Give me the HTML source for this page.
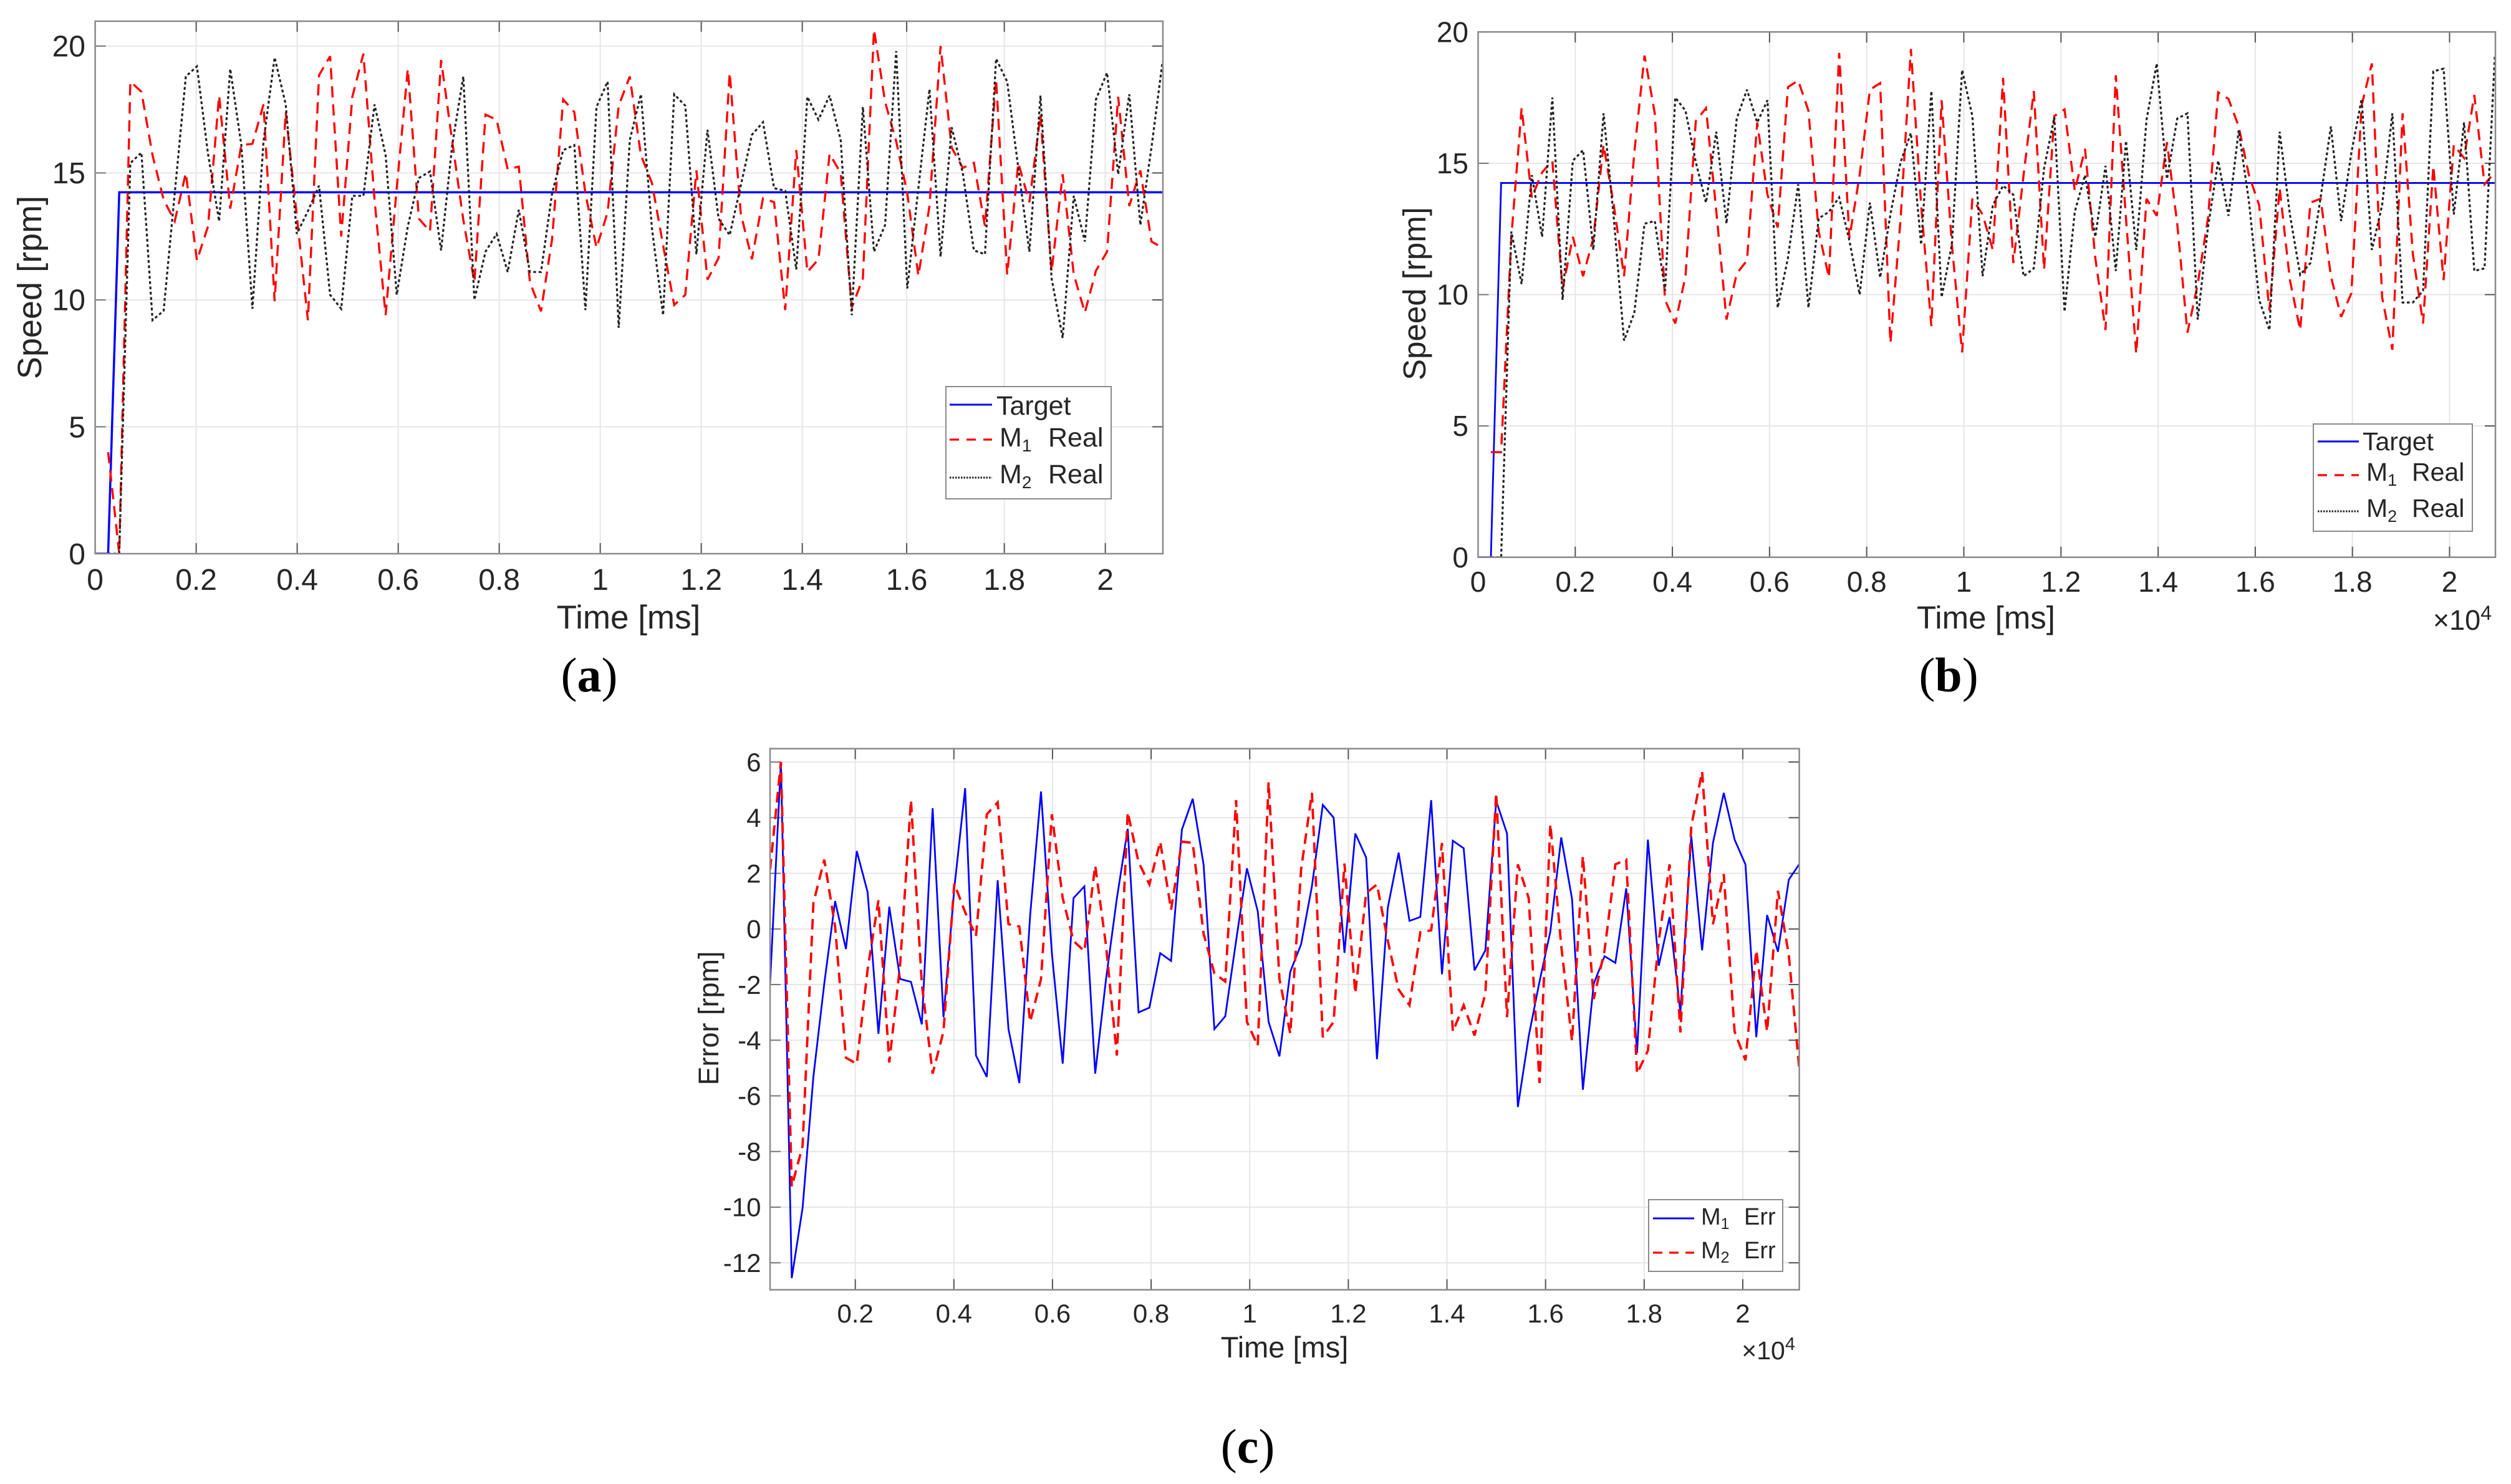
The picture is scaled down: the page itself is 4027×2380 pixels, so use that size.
<!DOCTYPE html>
<html lang="en">
<head>
<meta charset="utf-8">
<title>Speed and error charts</title>
<style>
html,body{margin:0;padding:0;background:#fff;}
svg{display:block;}
text{font-family:"Liberation Sans",Arial,sans-serif;fill:#262626;}
.cap{font-family:"Liberation Serif",serif;fill:#000;font-size:78px;}
</style>
</head>
<body>
<svg id="figure" xmlns="http://www.w3.org/2000/svg" width="4027" height="2380" viewBox="0 0 4027 2380">
<rect x="0" y="0" width="4027" height="2380" fill="#fff"/>

<g id="plot-a"></g>
<g id="plot-b"></g>
<g id="plot-c"></g>

<text transform="translate(66,461) rotate(-90)" text-anchor="middle" font-size="54">Speed [rpm]</text>
<text x="1008" y="1008" text-anchor="middle" font-size="53">Time [ms]</text>
<g>
  <rect x="1517" y="620" width="265" height="180" fill="#fff" stroke="#8a8a8a" stroke-width="2"/>
  <line x1="1523" y1="649" x2="1591" y2="649" stroke="#0000ff" stroke-width="3"/>
  <text x="1598" y="665" font-size="43">Target</text>
  <line x1="1523" y1="705" x2="1591" y2="705" stroke="#ff0000" stroke-width="3.3" stroke-dasharray="15 12"/>
  <text x="1603" y="716" font-size="43">M<tspan dy="8" font-size="28">1</tspan></text>
  <text x="1681" y="716" font-size="43">Real</text>
  <line x1="1523" y1="766" x2="1591" y2="766" stroke="#222" stroke-width="3" stroke-dasharray="2.5 2"/>
  <text x="1603" y="775" font-size="43">M<tspan dy="8" font-size="28">2</tspan></text>
  <text x="1681" y="775" font-size="43">Real</text>
</g>
<text x="945" y="1109" text-anchor="middle" class="cap">(<tspan font-weight="bold">a</tspan>)</text>

<text transform="translate(2286,471) rotate(-90)" text-anchor="middle" font-size="51">Speed [rpm]</text>
<text x="3185" y="1008" text-anchor="middle" font-size="51">Time [ms]</text>
<text x="3996" y="1010" text-anchor="end" font-size="45">×10<tspan dy="-16" font-size="32">4</tspan></text>
<g>
  <rect x="3710" y="680" width="255" height="172" fill="#fff" stroke="#8a8a8a" stroke-width="2"/>
  <line x1="3717" y1="708" x2="3783" y2="708" stroke="#0000ff" stroke-width="3"/>
  <text x="3789" y="722" font-size="41">Target</text>
  <line x1="3717" y1="762" x2="3783" y2="762" stroke="#ff0000" stroke-width="3.3" stroke-dasharray="15 12"/>
  <text x="3795" y="771" font-size="41">M<tspan dy="8" font-size="27">1</tspan></text>
  <text x="3868" y="771" font-size="41">Real</text>
  <line x1="3717" y1="820" x2="3783" y2="820" stroke="#222" stroke-width="3" stroke-dasharray="2.5 2"/>
  <text x="3795" y="829" font-size="41">M<tspan dy="8" font-size="27">2</tspan></text>
  <text x="3868" y="829" font-size="41">Real</text>
</g>
<text x="3125" y="1109" text-anchor="middle" class="cap">(<tspan font-weight="bold">b</tspan>)</text>

<text transform="translate(1152,1633) rotate(-90)" text-anchor="middle" font-size="45">Error [rpm]</text>
<text x="2060" y="2177" text-anchor="middle" font-size="47">Time [ms]</text>
<text x="2879" y="2180" text-anchor="end" font-size="41">×10<tspan dy="-15" font-size="29">4</tspan></text>
<g>
  <rect x="2644" y="1924" width="215" height="115" fill="#fff" stroke="#8a8a8a" stroke-width="2"/>
  <line x1="2651" y1="1954" x2="2717" y2="1954" stroke="#0000ff" stroke-width="3"/>
  <text x="2728" y="1964" font-size="38">M<tspan dy="7" font-size="25">1</tspan></text>
  <text x="2797" y="1964" font-size="38">Err</text>
  <line x1="2651" y1="2009" x2="2717" y2="2009" stroke="#ff0000" stroke-width="3.3" stroke-dasharray="15 11"/>
  <text x="2728" y="2018" font-size="38">M<tspan dy="7" font-size="25">2</tspan></text>
  <text x="2797" y="2018" font-size="38">Err</text>
</g>
<text x="2001" y="2346" text-anchor="middle" class="cap">(<tspan font-weight="bold">c</tspan>)</text>
</svg>

<script>
const speedTicks = [0, 5, 10, 15, 20];
const speedTickLabels = ["0", "5", "10", "15", "20"];
const errorTicks = [-12, -10, -8, -6, -4, -2, 0, 2, 4, 6];
const errorTickLabels = ["-12", "-10", "-8", "-6", "-4", "-2", "0", "2", "4", "6"];
const timeTicksA = [0, 0.2, 0.4, 0.6, 0.8, 1, 1.2, 1.4, 1.6067, 1.8, 2];
const timeTicksB = [0, 0.2, 0.4, 0.6, 0.8, 1, 1.2, 1.4, 1.6, 1.8, 2];
const timeTicksC = [0.2, 0.4, 0.6, 0.8, 1, 1.2, 1.4, 1.6, 1.8, 2];
const timeLabelsAB = ["0", "0.2", "0.4", "0.6", "0.8", "1", "1.2", "1.4", "1.6", "1.8", "2"];
const timeLabelsC = ["0.2", "0.4", "0.6", "0.8", "1", "1.2", "1.4", "1.6", "1.8", "2"];

const targetTimesA = [0, 0.0257, 0.0477, 2.114];
const targetValuesA = [0, 0, 14.24, 14.24];
const realM1A = [4,0,18.6,18.2,15.7,13.95,13.1,15,11.55,12.9,18.05,13.6,16.1,16.15,17.7,9.95,17.4,13.3,9.2,18.85,19.6,12.5,18,19.7,13.95,9.4,14.4,19.1,13.2,12.7,19.45,16.25,13.15,10.7,17.3,17.1,15.15,15.25,10.7,9.55,12.4,17.9,17.4,14.2,12.05,13.45,17.65,18.8,15.7,14.6,12.15,9.8,10.2,15.1,10.8,11.65,18.95,13.4,11.6,14,13.85,9.6,15.9,11.1,11.6,15.75,15,9.7,10.85,20.65,17.8,16.25,14.2,10.95,13.7,20,16,15.2,15.4,12.9,18.7,11,15.4,13.85,17.3,11.1,14.95,11,9.5,11.15,11.9,18,13.7,15.1,12.3,12.05];
const realM2A = [0,0,15.39,15.8,9.2,9.57,14.2,18.8,19.2,15.75,13.1,19.1,16.1,9.65,16.25,19.55,17.7,12.6,13.5,14.5,10.2,9.65,14.1,14.1,17.7,15.7,10.2,12.9,14.8,15.06,11.95,16.1,18.8,10,11.9,12.6,11.1,13.55,11.1,11.1,14.2,15.9,16.1,9.6,17.6,18.6,8.9,16.3,18.1,12.8,9.4,18.1,17.65,11.8,16.7,13.2,12.55,14.5,16.5,17,14.4,14.3,11.2,18,17.1,18.05,16.3,9.4,17.6,11.9,12.95,19.8,10.45,14.4,18.3,11.7,16.8,15,11.95,11.8,19.5,18.6,15.2,11.9,18.05,10.85,8.5,14.1,12.3,17.9,18.95,14.95,18.1,12.95,16,19.4];

const targetTimesB = [0, 0.0263, 0.0474, 2.0944];
const targetValuesB = [0, 0, 14.25, 14.25];
const realM1B = [4,4,12.2,17.1,13.7,14.65,15.1,10.2,12.2,10.7,12.15,15.7,13.4,10.7,15.4,19.1,16.9,9.8,8.9,10.7,16.6,17.1,13.2,9.05,10.8,11.3,16.55,13.8,12.55,17.9,18.15,17,12.4,10.65,19.2,12.15,14.55,17.8,18.05,8.15,12.9,19.35,13.4,8.8,17.4,11.9,7.8,13.65,13.05,11.7,18.25,11.2,14.55,17.75,10.95,16.8,17.05,13.95,15.55,11.4,8.65,18.35,12.9,7.75,13.65,13,15.8,12.7,8.55,10.4,12.9,17.7,17.45,16.4,14.55,13.4,9.4,14.05,10.55,8.65,13.5,13.65,10.7,9.15,10.05,17.2,18.8,9.9,7.9,16.9,11.55,8.9,14.9,10.55,15.7,15.2,17.6,14.2,14.65];
const realM2B = [0,0,12.4,10.4,14.55,12.2,17.5,9.8,15.1,15.5,11.7,16.9,12.9,8.25,9.3,12.7,12.8,10.15,17.5,17,15.05,13.5,16.2,12.7,16.7,17.8,16.55,17.4,9.5,11.4,14.2,9.5,12.9,13.15,13.7,12.05,10,13.5,10.65,13.05,15.05,16.15,11.9,17.75,9.9,11.9,18.55,16.8,10.7,13.4,14.15,13.8,10.7,11,14.8,16.75,9.35,13.15,14.55,12.2,14.9,10.9,15.85,11.7,16.65,18.8,14.4,16.7,16.9,9.05,12.55,15.1,13,16.25,13.55,9.8,8.65,16.2,13.05,10.75,11.2,13.7,16.4,12.8,15.4,17.45,11.7,13.4,16.9,9.7,9.7,10.15,18.5,18.6,13.05,16.55,10.9,11,19.05];

const errorM1C = [-1.97,6,-12.55,-10.03,-5.3,-1.97,1,-0.72,2.8,1.32,-3.77,0.8,-1.8,-1.9,-3.43,4.34,-3.17,1.46,5.06,-4.55,-5.32,1.75,-3.6,-5.54,0.5,4.94,-0.86,-4.84,1.11,1.53,-5.2,-1.8,1.1,3.6,-3,-2.83,-0.87,-1.15,3.57,4.68,2.32,-3.6,-3.14,-0.43,2.18,0.63,-3.34,-4.58,-1.54,-0.55,1.54,4.46,4,-0.86,3.43,2.57,-4.68,0.77,2.74,0.29,0.43,4.63,-1.63,3.17,2.9,-1.49,-0.77,4.6,3.43,-6.4,-3.86,-1.89,-0.09,3.29,1.08,-5.78,-1.97,-0.98,-1.22,1.46,-4.46,3.21,-1.32,0.43,-3,3.34,-0.77,3.09,4.89,3.21,2.32,-3.89,0.5,-0.82,1.77,2.35];
const errorM2C = [2.14,6,-9.26,-7.8,0.94,2.49,0.09,-4.63,-4.85,-1.46,1.03,-4.8,-1.29,4.63,-1.97,-5.2,-3.69,1.63,0.6,-0.26,4.12,4.55,0.17,0.09,-3.34,-1.8,4.12,1.11,-0.43,-0.8,2.28,-0.6,-4.55,4.2,2.4,1.6,3.14,0.69,3.14,3.09,-0.17,-1.6,-1.89,4.63,-3.34,-4.2,5.28,-1.8,-3.77,2.14,4.89,-3.89,-3.34,2.35,-2.32,1.29,1.6,-0.43,-2.18,-2.74,-0.12,-0.05,3.09,-3.69,-2.74,-3.83,-2.32,4.89,-3.17,2.32,1.11,-5.54,3.77,-0.6,-4.03,2.62,-2.52,-0.77,2.32,2.49,-5.2,-4.37,-0.43,2.32,-3.72,3.69,5.66,0.17,1.97,-3.69,-4.72,-0.77,-3.69,1.37,-0.94,-5.15];

const SVG_NS = "http://www.w3.org/2000/svg";

function node(tag, attrs, parent) {
  const el = document.createElementNS(SVG_NS, tag);
  for (const key in attrs) el.setAttribute(key, attrs[key]);
  parent.appendChild(el);
  return el;
}

function drawLine(parent, xs, ys, xScale, yScale, style, name) {
  const pts = xs.map((v, i) => xScale(v).toFixed(2) + "," + yScale(ys[i]).toFixed(2)).join(" ");
  const el = node("polyline", {
    points: pts, fill: "none", stroke: style.color, "stroke-width": style.width,
    "stroke-dasharray": style.dash || "none", "stroke-linejoin": "miter", "stroke-miterlimit": 3
  }, parent);
  
  
  return el;
}

function drawPanel(p) {
  const root = document.getElementById(p.id);
  const xScale = v => p.left + (v - p.xMin) / (p.xMax - p.xMin) * (p.right - p.left);
  const yScale = v => p.bottom - (v - p.yMin) / (p.yMax - p.yMin) * (p.bottom - p.top);

  const defs = node("defs", {}, root);
  const clip = node("clipPath", { id: p.id + "-clip" }, defs);
  node("rect", { x: p.left, y: p.top, width: p.right - p.left, height: p.bottom - p.top }, clip);

  p.xTicks.forEach((v, i) => {
    const x = xScale(v);
    const grid = node("line", { x1: x, x2: x, y1: p.top, y2: p.bottom, stroke: "#e6e6e6", "stroke-width": 2 }, root);
    
    
    const tickTop = node("line", { x1: x, x2: x, y1: p.top, y2: p.top + 17, stroke: "#555", "stroke-width": 2 }, root);
    
    
    const tickBottom = node("line", { x1: x, x2: x, y1: p.bottom, y2: p.bottom - 17, stroke: "#555", "stroke-width": 2 }, root);
    
    
    const label = node("text", { x: x, y: p.xLabelY, "text-anchor": "middle", "font-size": p.tickFont }, root);
    label.textContent = p.xLabels[i];
    
    
  });

  p.yTicks.forEach((v, i) => {
    const y = yScale(v);
    const grid = node("line", { x1: p.left, x2: p.right, y1: y, y2: y, stroke: "#e6e6e6", "stroke-width": 2 }, root);
    
    
    const tickLeft = node("line", { x1: p.left, x2: p.left + 17, y1: y, y2: y, stroke: "#777", "stroke-width": 2 }, root);
    
    
    const tickRight = node("line", { x1: p.right, x2: p.right - 17, y1: y, y2: y, stroke: "#555", "stroke-width": 2 }, root);
    
    
    const label = node("text", { x: p.yLabelX, y: y + p.tickFont * 0.35, "text-anchor": "end", "font-size": p.tickFont }, root);
    label.textContent = p.yLabels[i];
    
    
  });

  const marks = node("g", { "clip-path": "url(#" + p.id + "-clip)" }, root);
  
  
  p.series.forEach(s => {
    const xs = s.times || s.values.map((_, i) => p.sampleStart + i * p.sampleStep);
    drawLine(marks, xs, s.values, xScale, yScale, s.style, s.name);
  });

  const box = node("rect", { x: p.left, y: p.top, width: p.right - p.left, height: p.bottom - p.top, fill: "none", stroke: "#8a8a8a", "stroke-width": 2.5 }, root);
  
  
}

const blueStyle = { color: "#0000ff", width: 3.5 };
const blueThin = { color: "#0000ff", width: 2.8 };
const redStyle = { color: "#ff0000", width: 3.4, dash: "18 11" };
const redErrStyle = { color: "#ff0000", width: 3.8, dash: "17 10" };
const blackStyle = { color: "#222222", width: 3.2, dash: "4.5 4" };

drawPanel({
  id: "plot-a", left: 152.6, right: 1865, top: 34, bottom: 888,
  xMin: 0, xMax: 2.114, yMin: 0, yMax: 20.98,
  sampleStart: 0.0257, sampleStep: 0.021975,
  xTicks: timeTicksA, xLabels: timeLabelsAB, yTicks: speedTicks, yLabels: speedTickLabels,
  tickFont: 48, xLabelY: 946, yLabelX: 137,
  series: [
    { name: "target-line", times: targetTimesA, values: targetValuesA, style: blueStyle },
    { name: "m1-real-line", values: realM1A, style: redStyle },
    { name: "m2-real-line", values: realM2A, style: blackStyle }
  ]
});

drawPanel({
  id: "plot-b", left: 2370.5, right: 4002, top: 51.2, bottom: 893.7,
  xMin: 0, xMax: 2.0944, yMin: 0, yMax: 20,
  sampleStart: 0.0263, sampleStep: 0.02109,
  xTicks: timeTicksB, xLabels: timeLabelsAB, yTicks: speedTicks, yLabels: speedTickLabels,
  tickFont: 46, xLabelY: 949, yLabelX: 2355,
  series: [
    { name: "target-line", times: targetTimesB, values: targetValuesB, style: blueThin },
    { name: "m1-real-line", values: realM1B, style: redStyle },
    { name: "m2-real-line", values: realM2B, style: blackStyle }
  ]
});

drawPanel({
  id: "plot-c", left: 1235, right: 2885.6, top: 1200.7, bottom: 2068.5,
  xMin: 0.0272, xMax: 2.1146, yMin: -12.97, yMax: 6.48,
  sampleStart: 0.0272, sampleStep: 0.02198,
  xTicks: timeTicksC, xLabels: timeLabelsC, yTicks: errorTicks, yLabels: errorTickLabels,
  tickFont: 42, xLabelY: 2121, yLabelX: 1220.5,
  series: [
    { name: "m1-error-line", values: errorM1C, style: blueThin },
    { name: "m2-error-line", values: errorM2C, style: redErrStyle }
  ]
});
</script>
</body>
</html>
